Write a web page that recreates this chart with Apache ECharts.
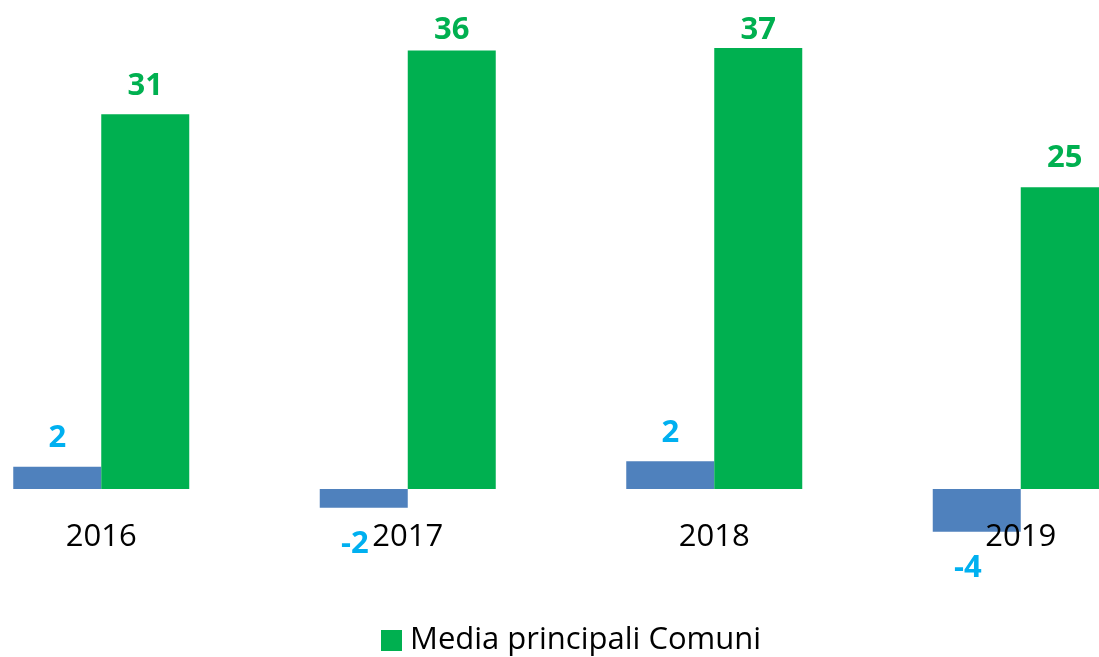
<!DOCTYPE html>
<html>
<head>
<meta charset="utf-8">
<script src="https://cdn.jsdelivr.net/npm/echarts@6/dist/echarts.min.js"></script>
<style>html,body{margin:0;padding:0;background:#fff;overflow:hidden}#c{width:1099px;height:657px}</style>
</head>
<body>
<div id="c"></div>
<script>
const categories = ['2016', '2017', '2018', '2019'];
const variazione = [1.85, -1.55, 2.3, -3.55];
const mediaComuni = [31.1, 36.4, 36.6, 25.05];
const seriesNames = ['Variazione', 'Media principali Comuni'];

const FONT = 'Open Sans';
const chart = echarts.init(document.getElementById('c'));

function blueData(vals) {
  return vals.map(v => v < 0
    ? { value: v, label: { position: 'bottom', distance: 21 } }
    : { value: v });
}

chart.setOption({
  animation: false,
  textStyle: { fontFamily: FONT },
  grid: { left: -52, right: -75, top: 7, bottom: 47.5, containLabel: false, outerBoundsMode: 'none' },
  legend: {
    data: [seriesNames[1]],
    top: 620,
    left: 376,
    icon: 'rect',
    itemWidth: 21,
    itemHeight: 21,
    textStyle: { fontSize: 31, color: '#000', fontFamily: FONT, padding: [0, 0, 0, 3] }
  },
  xAxis: {
    type: 'category',
    data: categories,
    offset: -120.5,
    z: 10,
    axisLine: { show: false, onZero: false },
    axisTick: { show: false },
    axisLabel: { fontSize: 31, color: '#000', margin: 33, fontFamily: FONT }
  },
  yAxis: {
    type: 'value',
    min: -10,
    max: 40,
    show: false,
    splitLine: { show: false }
  },
  labelLayout: function (p) {
    const r = p.labelRect;
    const out = {};
    if (r.y < 15) out.dy = 15 - r.y;
    if (p.seriesIndex === 0 && p.dataIndex !== undefined && variazione[p.dataIndex] < 0) out.dx = -9;
    return out;
  },
  series: [
    {
      name: seriesNames[0],
      type: 'bar',
      data: blueData(variazione),
      barWidth: 88,
      barGap: '0%',
      itemStyle: { color: '#4F81BD' },
      label: {
        show: true,
        position: 'top',
        distance: 13,
        color: '#00B0F0',
        fontWeight: 'bold',
        fontSize: 31,
        fontFamily: FONT,
        formatter: p => Math.round(p.value)
      }
    },
    {
      name: seriesNames[1],
      type: 'bar',
      data: mediaComuni,
      barWidth: 88,
      barGap: '0%',
      itemStyle: { color: '#00B050' },
      label: {
        show: true,
        position: 'top',
        distance: 13,
        color: '#00B050',
        fontWeight: 'bold',
        fontSize: 31,
        fontFamily: FONT,
        formatter: p => Math.round(p.value)
      }
    }
  ]
});
</script>
</body>
</html>
